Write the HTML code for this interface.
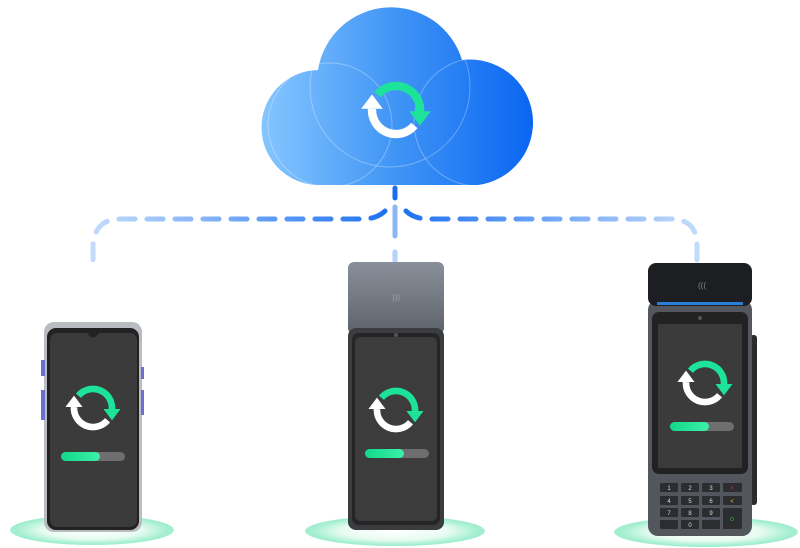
<!DOCTYPE html>
<html><head><meta charset="utf-8"><style>
html,body{margin:0;padding:0;background:#fff;}
svg{display:block}
</style></head><body>
<svg width="800" height="548" viewBox="0 0 800 548" xmlns="http://www.w3.org/2000/svg">
<defs>
<linearGradient id="cg" x1="0" x2="1" y1="0" y2="0">
<stop offset="0" stop-color="#86c6ff"/><stop offset="0.5" stop-color="#3f94f5"/><stop offset="1" stop-color="#0a66f2"/>
</linearGradient>
<linearGradient id="dl" x1="90" x2="700" y1="0" y2="0" gradientUnits="userSpaceOnUse">
<stop offset="0" stop-color="#c4dcfb"/><stop offset="0.5" stop-color="#1a6ff0"/><stop offset="1" stop-color="#c4dcfb"/>
</linearGradient>
<radialGradient id="pg">
<stop offset="0" stop-color="#ffffff"/><stop offset="0.6" stop-color="#e8fbf3"/><stop offset="0.9" stop-color="#a8f0d2"/><stop offset="1" stop-color="#6fe2b6" stop-opacity="0.6"/>
</radialGradient>
<linearGradient id="bar" x1="0" x2="1"><stop offset="0" stop-color="#10d88a"/><stop offset="1" stop-color="#3ef0a8"/></linearGradient>
<linearGradient id="head" x1="0" x2="0" y1="0" y2="1"><stop offset="0" stop-color="#8a9099"/><stop offset="1" stop-color="#5e636b"/></linearGradient>
<g id="sync">
<path d="M -15.3 -12.9 A 20 20 0 0 1 19.7 3.5" fill="none" stroke="#1de39a" stroke-width="7"/>
<polygon points="11,1 29,1 20,13" fill="#1de39a"/>
<path d="M 15.3 12.9 A 20 20 0 0 1 -20 -1" fill="none" stroke="#fff" stroke-width="7"/>
<polygon points="-29,-1 -11,-1 -20,-13" fill="#fff"/>
</g>
</defs>

<!-- cloud -->
<g>
<path d="M 320 185 A 57 57 0 0 1 318 70 A 74 74 0 0 1 462 60 A 63 63 0 0 1 478 185 Z" fill="url(#cg)"/>
<circle cx="390" cy="87" r="80" fill="none" stroke="#ffffff" stroke-opacity="0.3" stroke-width="1"/>
<circle cx="330" cy="125" r="62" fill="none" stroke="#ffffff" stroke-opacity="0.3" stroke-width="1"/>
<circle cx="478" cy="122" r="64" fill="none" stroke="#ffffff" stroke-opacity="0.3" stroke-width="1"/>
<use href="#sync" transform="translate(396,110) scale(1.2)"/>
</g>

<!-- dashed connectors -->
<g fill="none" stroke="url(#dl)" stroke-width="5" stroke-linecap="round">
<path d="M 395 188 L 395 198" stroke="#1a6ff0"/>
<path d="M 385 211 Q 378 218 365 219 L 120 219 Q 95 219 93 245 L 93 265" stroke-dasharray="16 12"/>
<path d="M 406 211 Q 413 218 426 219 L 670 219 Q 697 219 697 245 L 697 265" stroke-dasharray="16 12"/>
<path d="M 395 207 L 395 236" stroke="#8bb8f5"/>
<path d="M 395 252 L 395 262" stroke="#b5d2fa"/>
</g>

<!-- platforms -->
<ellipse cx="92" cy="530" rx="82" ry="15" fill="url(#pg)"/>
<ellipse cx="395" cy="531" rx="90" ry="15" fill="url(#pg)"/>
<ellipse cx="706" cy="532" rx="92" ry="15" fill="url(#pg)"/>

<!-- left phone -->
<rect x="44" y="322" width="98" height="210" rx="10" fill="#b9bcc0"/>
<rect x="41" y="360" width="4" height="16" fill="#6a6fd0"/>
<rect x="41" y="390" width="4" height="30" fill="#6a6fd0"/>
<rect x="141" y="367" width="3" height="12" fill="#6a6fd0"/>
<rect x="141" y="390" width="3" height="25" fill="#6a6fd0"/>
<rect x="47" y="328" width="92" height="202" rx="9" fill="#222"/>
<rect x="50" y="333" width="87" height="194" rx="7" fill="#3b3b3c"/>
<path d="M 87 333 Q 93 342 99 333 Z" fill="#222"/>
<use href="#sync" transform="translate(93,408) scale(0.95)"/>
<rect x="61" y="452" width="64" height="9" rx="4.5" fill="#6e6e70"/>
<rect x="61" y="452" width="39" height="9" rx="4.5" fill="url(#bar)"/>

<!-- middle device -->
<rect x="348" y="262" width="96" height="72" rx="6" fill="url(#head)"/>
<text x="396" y="300" font-family="Liberation Sans, sans-serif" font-size="8" fill="#9aa0a8" text-anchor="middle">))) </text>
<rect x="348" y="328" width="96" height="202" rx="8" fill="#3a3c40"/>
<rect x="352" y="333" width="88" height="192" rx="7" fill="#252525"/>
<rect x="355" y="337" width="82" height="184" rx="5" fill="#3c3c3d"/>
<circle cx="396" cy="335" r="2" fill="#555"/>
<use href="#sync" transform="translate(396,410) scale(0.95)"/>
<rect x="365" y="449" width="64" height="9" rx="4.5" fill="#6e6e70"/>
<rect x="365" y="449" width="39" height="9" rx="4.5" fill="url(#bar)"/>

<!-- right device -->
<rect x="750" y="335" width="7" height="170" rx="3" fill="#2a2b2e"/>
<rect x="648" y="300" width="104" height="236" rx="10" fill="#53565c"/>
<rect x="648" y="263" width="104" height="43" rx="8" fill="#1d1e21"/>
<rect x="657" y="302" width="86" height="3" fill="#2a80d8"/>
<text x="702" y="288" font-family="Liberation Sans, sans-serif" font-size="8" fill="#888" text-anchor="middle">((( </text>
<rect x="652" y="312" width="96" height="162" rx="7" fill="#222"/>
<rect x="658" y="324" width="84" height="144" rx="2" fill="#3b3b3c"/>
<circle cx="700" cy="318" r="2" fill="#555"/>
<use href="#sync" transform="translate(705,383) scale(0.95)"/>
<rect x="670" y="422" width="64" height="9" rx="4.5" fill="#6e6e70"/>
<rect x="670" y="422" width="39" height="9" rx="4.5" fill="url(#bar)"/>
<g fill="#2c2d30" font-family="Liberation Sans, sans-serif" font-size="6" text-anchor="middle">
<rect x="660" y="483" width="18" height="9" rx="1"/><rect x="681" y="483" width="18" height="9" rx="1"/><rect x="702" y="483" width="18" height="9" rx="1"/><rect x="723" y="483" width="19" height="9" rx="1"/>
<rect x="660" y="496" width="18" height="9" rx="1"/><rect x="681" y="496" width="18" height="9" rx="1"/><rect x="702" y="496" width="18" height="9" rx="1"/><rect x="723" y="496" width="19" height="9" rx="1"/>
<rect x="660" y="508" width="18" height="9" rx="1"/><rect x="681" y="508" width="18" height="9" rx="1"/><rect x="702" y="508" width="18" height="9" rx="1"/>
<rect x="660" y="520" width="18" height="9" rx="1"/><rect x="681" y="520" width="18" height="9" rx="1"/><rect x="702" y="520" width="18" height="9" rx="1"/>
<rect x="723" y="508" width="19" height="21" rx="1"/>
</g>
<g fill="#ddd" font-family="Liberation Sans, sans-serif" font-size="6" text-anchor="middle">
<text x="669" y="490">1</text><text x="690" y="490">2</text><text x="711" y="490">3</text>
<text x="669" y="503">4</text><text x="690" y="503">5</text><text x="711" y="503">6</text>
<text x="669" y="515">7</text><text x="690" y="515">8</text><text x="711" y="515">9</text>
<text x="690" y="527">0</text>
</g>
<text x="732" y="490" font-family="Liberation Sans, sans-serif" font-size="6" fill="#c33" text-anchor="middle">×</text>
<text x="732" y="503" font-family="Liberation Sans, sans-serif" font-size="6" fill="#dc3" text-anchor="middle">&lt;</text>
<text x="732" y="521" font-family="Liberation Sans, sans-serif" font-size="7" fill="#3a3" text-anchor="middle">o</text>
</svg>
</body></html>
